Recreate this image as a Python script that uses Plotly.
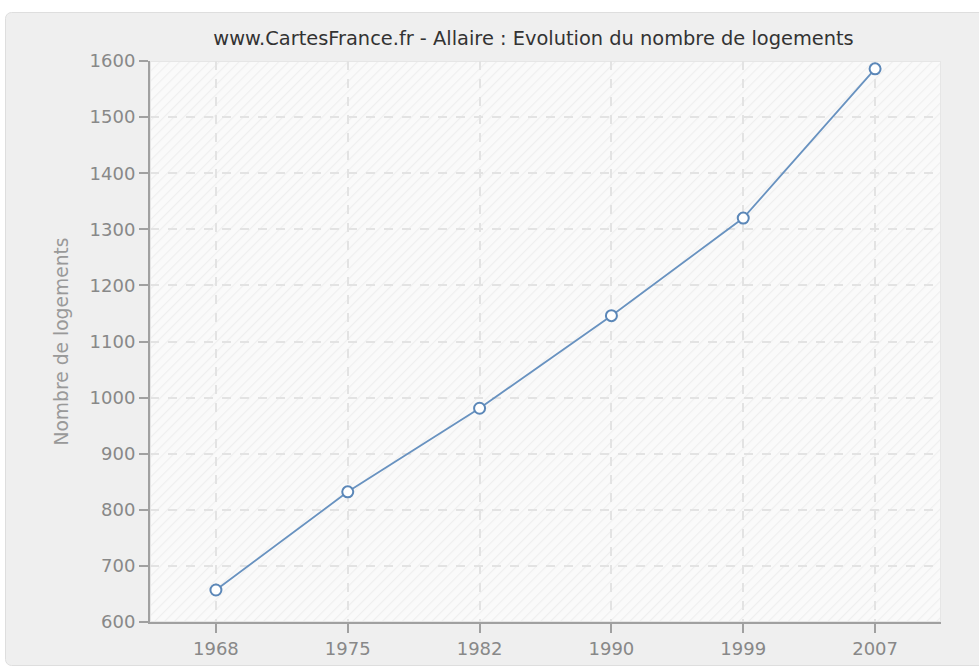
import base64
import plotly.graph_objects as go

years = ["1968", "1975", "1982", "1990", "1999", "2007"]
logements = [657, 832, 981, 1146, 1320, 1586]
y_ticks = [600, 700, 800, 900, 1000, 1100, 1200, 1300, 1400, 1500, 1600]

W, H = 979, 668
ML, MR, MT, MB = 150, 38, 61, 46
pw, ph = W - ML - MR, H - MT - MB


def px_x(x):
    return (x - ML) / pw


def px_y(y):
    return (H - MB - y) / ph


def svg_uri(svg):
    return "data:image/svg+xml;base64," + base64.b64encode(svg.encode()).decode()


# card background (rounded rectangle)
cx0, cy0, cx1, cy1 = 5, 12, 995, 666
cw, ch = cx1 - cx0, cy1 - cy0
card_svg = (
    f"<svg xmlns='http://www.w3.org/2000/svg' width='{cw}' height='{ch}' viewBox='0 0 {cw} {ch}'>"
    f"<rect x='0.5' y='0.5' width='{cw-1}' height='{ch-1}' rx='6' ry='6' fill='#efefef' stroke='#dedede' stroke-width='1'/>"
    "</svg>"
)

# hatched plot background
hatch_svg = (
    f"<svg xmlns='http://www.w3.org/2000/svg' width='{pw}' height='{ph}' viewBox='0 0 {pw} {ph}'>"
    "<defs><pattern id='p' width='7' height='7' patternUnits='userSpaceOnUse' patternTransform='rotate(45)'>"
    "<rect width='7' height='7' fill='#fafafa'/>"
    "<line x1='0' y1='0' x2='0' y2='7' stroke='#efefef' stroke-width='2.2'/>"
    "</pattern></defs>"
    "<rect width='100%' height='100%' fill='url(#p)' stroke='#e6e6e6' stroke-width='2'/>"
    "</svg>"
)

fig = go.Figure()

fig.add_trace(go.Scatter(
    x=years, y=logements, mode="lines+markers",
    line=dict(color="#6892c0", width=1.8),
    marker=dict(symbol="circle", size=11, color="white", line=dict(color="#5b87b8", width=2)),
    showlegend=False, cliponaxis=False,
))

fig.update_layout(
    width=W, height=H,
    margin=dict(l=ML, r=MR, t=MT, b=MB, autoexpand=False),
    paper_bgcolor="white", plot_bgcolor="rgba(0,0,0,0)",
    images=[
        dict(source=svg_uri(card_svg), xref="paper", yref="paper",
             x=px_x(cx0), y=px_y(cy0), sizex=cw / pw, sizey=ch / ph,
             xanchor="left", yanchor="top", sizing="stretch", layer="below"),
        dict(source=svg_uri(hatch_svg), xref="paper", yref="paper",
             x=0, y=1, sizex=1, sizey=1,
             xanchor="left", yanchor="top", sizing="stretch", layer="below"),
    ],
    title=dict(text="www.CartesFrance.fr - Allaire : Evolution du nombre de logements",
               x=533.5 / W, xanchor="center", y=1 - 38 / H, yanchor="middle",
               font=dict(family="DejaVu Sans", size=19.4, color="#333333")),
    font=dict(family="DejaVu Sans", size=18, color="#888888"),
    xaxis=dict(type="category", range=[-0.5, 5.5], showgrid=True, griddash="dash", automargin=False,
               gridcolor="#e3e3e3", gridwidth=1.5, showline=True, linecolor="#a0a0a0", linewidth=2,
               ticks="outside", ticklen=9, tickwidth=1.5, tickcolor="#a0a0a0", zeroline=False,
               tickfont=dict(size=18, color="#888888")),
    yaxis=dict(range=[600, 1600], tickvals=y_ticks, showgrid=True, griddash="dash", automargin=False,
               gridcolor="#e3e3e3", gridwidth=1.5, showline=True, linecolor="#a0a0a0", linewidth=2,
               ticks="outside", ticklen=9, tickwidth=1.5, tickcolor="#a0a0a0", zeroline=False,
               title=dict(text="Nombre de logements", font=dict(size=18.7, color="#999999"), standoff=16),
               tickfont=dict(size=18, color="#888888")),
)

fig.write_html("out.html", config={"displayModeBar": False},
               post_script="document.body.style.margin='0';")
